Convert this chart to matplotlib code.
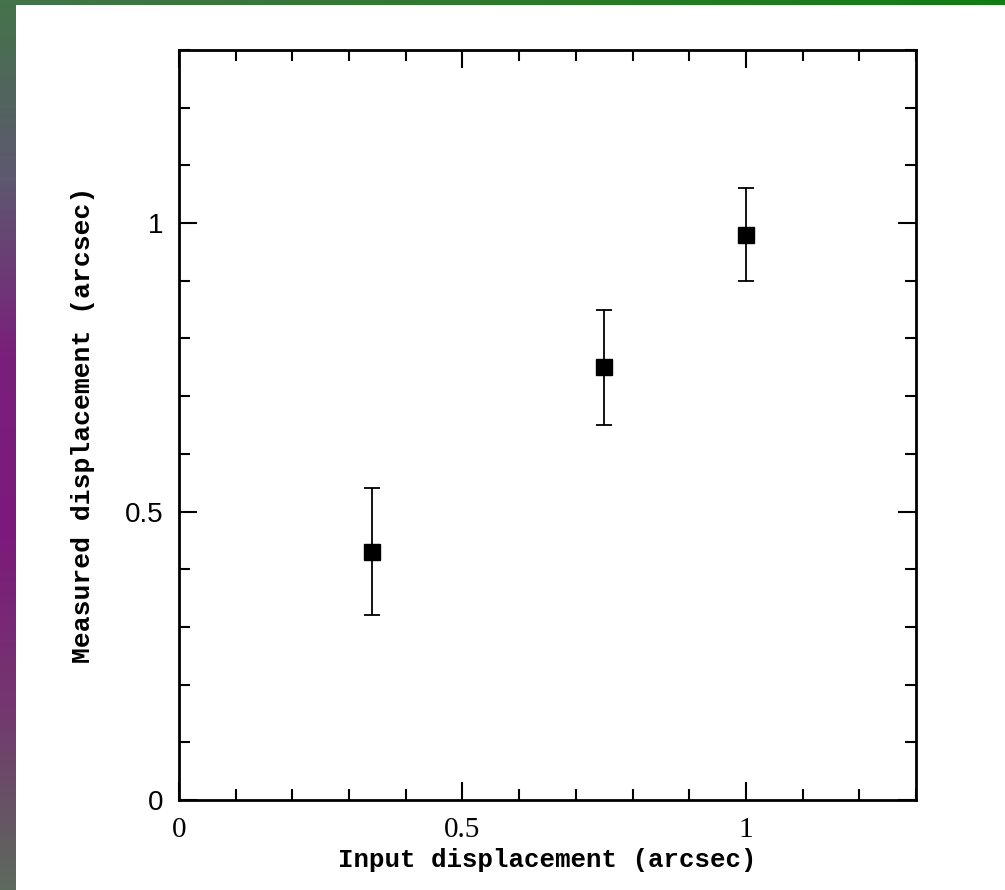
import numpy as np
import matplotlib
matplotlib.use('Agg')
import matplotlib.pyplot as plt
from matplotlib.ticker import MultipleLocator
from matplotlib.colors import LinearSegmentedColormap

# measured points
input_disp = [0.34, 0.75, 1.0]
measured_disp = [0.43, 0.75, 0.98]
measured_err = [0.11, 0.10, 0.08]

W, H = 1005, 890
fig = plt.figure(figsize=(W / 100, H / 100), dpi=100)
fig.patch.set_facecolor('white')

# slide-style border: green strip on top, green/purple strip on the left
top_cmap = LinearSegmentedColormap.from_list('top', ['#44744a', '#2f7a2c', '#127d14'])
left_cmap = LinearSegmentedColormap.from_list(
    'left', ['#44744a', '#5e5870', '#7a1f7c', '#7c1a7c', '#74386f', '#5c6a5c'])
ax_top = fig.add_axes([0, 1 - 5 / H, 1, 5 / H])
ax_top.imshow(np.linspace(0, 1, 256)[None, :], aspect='auto', cmap=top_cmap)
ax_top.axis('off')
ax_left = fig.add_axes([0, 0, 15 / W, 1])
ax_left.imshow(np.linspace(0, 1, 256)[:, None], aspect='auto', cmap=left_cmap)
ax_left.axis('off')

ax = fig.add_axes([179 / W, 1 - 800 / H, (916 - 179) / W, (800 - 50) / H])
ax.errorbar(input_disp, measured_disp, yerr=measured_err, fmt='s', color='black',
            markersize=11.5, elinewidth=1.3, capsize=5.8, capthick=1.3)

ax.set_xlim(0, 1.3)
ax.set_ylim(0, 1.3)
ax.xaxis.set_major_locator(MultipleLocator(0.5))
ax.xaxis.set_minor_locator(MultipleLocator(0.1))
ax.yaxis.set_major_locator(MultipleLocator(0.5))
ax.yaxis.set_minor_locator(MultipleLocator(0.1))
ax.xaxis.set_major_formatter(plt.FuncFormatter(lambda v, p: '%g' % v))
ax.yaxis.set_major_formatter(plt.FuncFormatter(lambda v, p: '%g' % v))

for s in ax.spines.values():
    s.set_linewidth(2.0)
ax.tick_params(which='both', direction='in', top=True, right=True, width=1.5)
ax.tick_params(which='major', length=13)
ax.tick_params(which='minor', length=8)
ax.tick_params(axis='x', pad=12)
ax.tick_params(axis='y', pad=11)
for lab in ax.get_xticklabels():
    lab.set_family('Liberation Serif')
    lab.set_fontsize(21)
for lab in ax.get_yticklabels():
    lab.set_family('Liberation Sans')
    lab.set_fontsize(20)

ax.set_xlabel('Input displacement (arcsec)', family='Liberation Mono', fontsize=18.5,
              weight='bold', labelpad=4)
ax.set_ylabel('Measured displacement (arcsec)', family='Liberation Mono', fontsize=19,
              weight='bold', labelpad=22)

fig.savefig('out.png', dpi=100)
